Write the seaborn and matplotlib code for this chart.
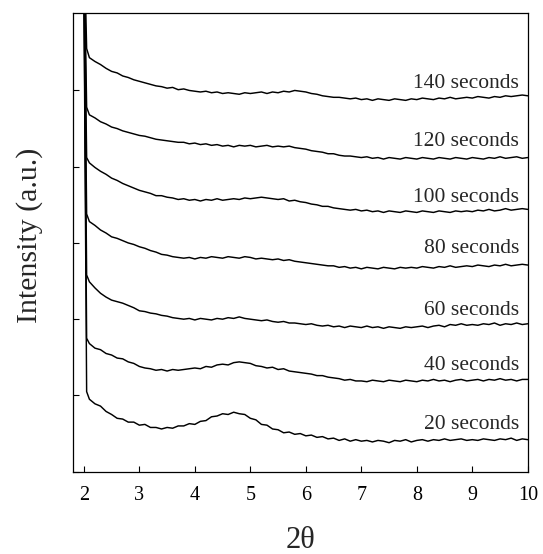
import numpy as np
import pandas as pd
import matplotlib
matplotlib.use('Agg')
import matplotlib.pyplot as plt
import seaborn as sns

# sampling positions (2-theta); two extra points at the start make the sharp low-angle rise
two_theta = [1.99, 2.05] + list(np.round(np.arange(2.1, 10.001, 0.1), 1))

labels = ['20 seconds', '40 seconds', '60 seconds', '80 seconds',
          '100 seconds', '120 seconds', '140 seconds']

s20 = [7.5, 1.05,
       0.95, 0.89, 0.86, 0.79, 0.75, 0.70, 0.69, 0.65, 0.65,
       0.61, 0.62, 0.58, 0.58, 0.56, 0.58, 0.57, 0.60, 0.60, 0.63,
       0.62, 0.66, 0.67, 0.72, 0.73, 0.76, 0.75, 0.78, 0.76, 0.75,
       0.70, 0.68, 0.62, 0.61, 0.56, 0.55, 0.51, 0.52, 0.49, 0.50,
       0.47, 0.48, 0.45, 0.46, 0.43, 0.44, 0.41, 0.43, 0.40, 0.42,
       0.40, 0.41, 0.39, 0.41, 0.40, 0.38, 0.41, 0.40, 0.42, 0.39,
       0.41, 0.42, 0.40, 0.42, 0.41, 0.43, 0.41, 0.42, 0.43, 0.41,
       0.42, 0.41, 0.43, 0.42, 0.41, 0.43, 0.42, 0.44, 0.41, 0.43, 0.42]
s40 = [7.5, 1.75,
       1.68, 1.62, 1.60, 1.55, 1.53, 1.49, 1.48, 1.44, 1.42,
       1.38, 1.36, 1.35, 1.33, 1.34, 1.32, 1.34, 1.33, 1.34, 1.35,
       1.36, 1.35, 1.38, 1.37, 1.40, 1.41, 1.40, 1.43, 1.44, 1.43,
       1.42, 1.39, 1.38, 1.36, 1.37, 1.34, 1.35, 1.32, 1.31, 1.30,
       1.29, 1.28, 1.26, 1.26, 1.24, 1.23, 1.22, 1.20, 1.21, 1.19,
       1.19, 1.18, 1.20, 1.19, 1.18, 1.20, 1.19, 1.18, 1.20, 1.19,
       1.18, 1.20, 1.19, 1.21, 1.19, 1.20, 1.18, 1.20, 1.21, 1.19,
       1.20, 1.21, 1.19, 1.21, 1.20, 1.22, 1.20, 1.21, 1.19, 1.21, 1.21]
s60 = [7.5, 2.58,
       2.49, 2.41, 2.34, 2.29, 2.25, 2.23, 2.21, 2.18, 2.15,
       2.11, 2.10, 2.08, 2.07, 2.05, 2.04, 2.02, 2.01, 2.00, 2.01,
       1.99, 2.01, 2.00, 1.99, 2.01, 2.00, 2.02, 2.01, 2.03, 2.01,
       2.00, 1.99, 1.98, 1.99, 1.97, 1.96, 1.97, 1.95, 1.95, 1.94,
       1.93, 1.94, 1.92, 1.91, 1.92, 1.90, 1.91, 1.89, 1.91, 1.90,
       1.89, 1.91, 1.89, 1.90, 1.88, 1.90, 1.89, 1.88, 1.90, 1.89,
       1.90, 1.91, 1.89, 1.91, 1.92, 1.90, 1.93, 1.92, 1.94, 1.92,
       1.93, 1.92, 1.94, 1.93, 1.95, 1.92, 1.94, 1.93, 1.95, 1.93, 1.94]
s80 = [7.5, 3.38,
       3.28, 3.23, 3.17, 3.13, 3.08, 3.06, 3.03, 3.00, 2.98,
       2.95, 2.93, 2.90, 2.88, 2.85, 2.84, 2.82, 2.81, 2.80, 2.81,
       2.79, 2.81, 2.80, 2.82, 2.81, 2.80, 2.82, 2.81, 2.80, 2.82,
       2.81, 2.79, 2.80, 2.79, 2.78, 2.79, 2.77, 2.78, 2.76, 2.75,
       2.74, 2.73, 2.72, 2.71, 2.70, 2.70, 2.68, 2.69, 2.67, 2.68,
       2.66, 2.68, 2.67, 2.66, 2.68, 2.67, 2.66, 2.68, 2.67, 2.68,
       2.67, 2.69, 2.68, 2.67, 2.69, 2.68, 2.70, 2.68, 2.69, 2.70,
       2.69, 2.71, 2.70, 2.69, 2.71, 2.70, 2.72, 2.70, 2.71, 2.72, 2.71]
s100 = [7.5, 4.12,
        4.05, 3.99, 3.94, 3.90, 3.85, 3.82, 3.78, 3.75, 3.72,
        3.69, 3.67, 3.65, 3.62, 3.62, 3.60, 3.59, 3.57, 3.58, 3.56,
        3.57, 3.55, 3.57, 3.56, 3.58, 3.56, 3.57, 3.58, 3.57, 3.59,
        3.58, 3.59, 3.60, 3.59, 3.58, 3.57, 3.58, 3.55, 3.56, 3.54,
        3.53, 3.51, 3.50, 3.48, 3.48, 3.46, 3.45, 3.44, 3.43, 3.44,
        3.42, 3.43, 3.41, 3.42, 3.40, 3.42, 3.41, 3.40, 3.42, 3.41,
        3.40, 3.42, 3.41, 3.40, 3.42, 3.41, 3.40, 3.42, 3.41, 3.42,
        3.41, 3.43, 3.42, 3.44, 3.42, 3.43, 3.45, 3.43, 3.44, 3.45, 3.44]
s120 = [7.5, 4.78,
        4.68, 4.64, 4.59, 4.56, 4.52, 4.50, 4.47, 4.45, 4.43,
        4.41, 4.40, 4.38, 4.36, 4.35, 4.34, 4.33, 4.32, 4.32, 4.30,
        4.31, 4.29, 4.30, 4.28, 4.29, 4.27, 4.28, 4.26, 4.28, 4.27,
        4.28, 4.26, 4.27, 4.28, 4.26, 4.27, 4.26, 4.27, 4.25, 4.24,
        4.23, 4.21, 4.20, 4.19, 4.17, 4.17, 4.15, 4.14, 4.14, 4.13,
        4.12, 4.13, 4.11, 4.12, 4.10, 4.12, 4.11, 4.10, 4.12, 4.11,
        4.10, 4.12, 4.11, 4.10, 4.12, 4.11, 4.10, 4.12, 4.11, 4.10,
        4.12, 4.11, 4.10, 4.12, 4.11, 4.13, 4.11, 4.12, 4.13, 4.11, 4.12]
s140 = [7.5, 5.55,
        5.43, 5.38, 5.34, 5.29, 5.25, 5.23, 5.19, 5.17, 5.14,
        5.12, 5.10, 5.08, 5.06, 5.05, 5.03, 5.04, 5.01, 5.02, 5.00,
        4.99, 4.98, 4.99, 4.97, 4.98, 4.96, 4.97, 4.96, 4.95, 4.97,
        4.96, 4.97, 4.98, 4.96, 4.98, 4.97, 4.99, 4.98, 5.00, 4.99,
        4.98, 4.96, 4.95, 4.93, 4.92, 4.91, 4.91, 4.90, 4.89, 4.90,
        4.88, 4.89, 4.87, 4.89, 4.88, 4.87, 4.89, 4.88, 4.87, 4.89,
        4.88, 4.90, 4.89, 4.88, 4.90, 4.89, 4.91, 4.89, 4.90, 4.91,
        4.90, 4.92, 4.91, 4.90, 4.92, 4.91, 4.93, 4.92, 4.93, 4.94, 4.93]

series = [s20, s40, s60, s80, s100, s120, s140]
# baseline height of each text label
label_y = [0.56, 1.33, 2.05, 2.87, 3.54, 4.27, 5.03]

sns.set_style('ticks')
plt.rcParams['font.family'] = ['Liberation Serif', 'DejaVu Serif']

fig = plt.figure(figsize=(5.43, 5.54), dpi=100)
ax = fig.add_axes([0.134, 0.1486, 0.838, 0.8285])

for name, vals in zip(labels, series):
    df = pd.DataFrame({'two_theta': two_theta, 'intensity': vals})
    sns.lineplot(data=df, x='two_theta', y='intensity', ax=ax, color='black',
                 linewidth=1.05, sort=False, estimator=None)

for name, yy in zip(labels, label_y):
    ax.text(9.84, yy, name, ha='right', va='baseline', fontsize=15.5)

ax.set_xlim(1.8, 10)
ax.set_ylim(0, 6.02)
ax.set_xticks(range(2, 11))
ax.set_yticks([0, 1, 2, 3, 4, 5])
ax.set_yticklabels([])
ax.tick_params(direction='in', length=4, width=0.8, labelsize=14.5, pad=10,
               colors='black')
for sp in ax.spines.values():
    sp.set_color('black')
    sp.set_linewidth(0.9)

ax.set_xlabel('2θ', fontsize=22)
ax.set_ylabel('Intensity (a.u.)', fontsize=21.5)
ax.xaxis.set_label_coords(0.5, -0.118)
ax.yaxis.set_label_coords(-0.066, 0.516)

fig.savefig('out.png', dpi=100)
